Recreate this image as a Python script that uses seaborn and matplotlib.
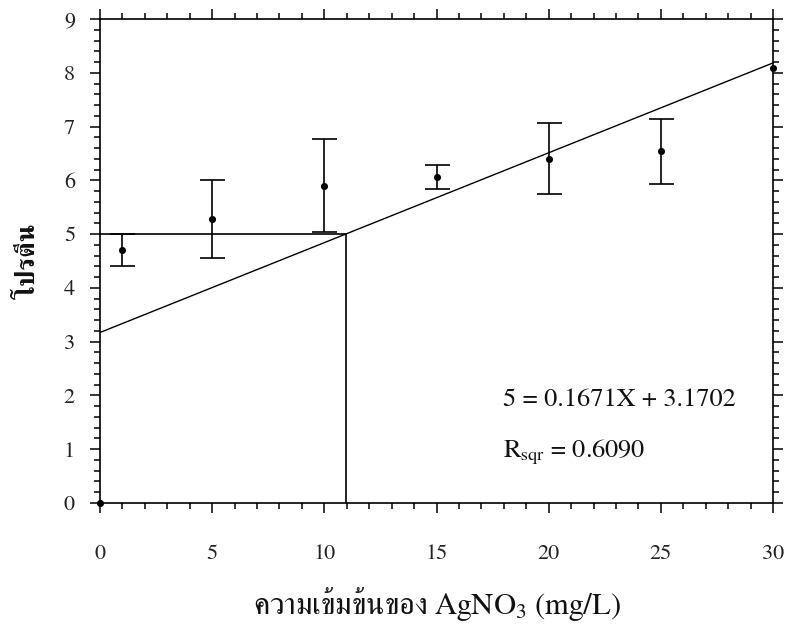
import matplotlib
matplotlib.use("Agg")
import matplotlib.pyplot as plt
from matplotlib.ticker import MultipleLocator
import numpy as np
import pandas as pd
import seaborn as sns

# AgNO3 concentration (mg/L) and measured protein with standard deviation
concentration = [0, 1, 5, 10, 15, 20, 25, 30]
protein = [0.0, 4.71, 5.28, 5.90, 6.06, 6.40, 6.54, 8.08]
protein_sd = [0.0, 0.30, 0.73, 0.86, 0.22, 0.66, 0.60, 0.0]

# Linear fit shown on the chart
slope = 0.1671
intercept = 3.1702
r_sqr = 0.6090
target_protein = 5

x_ticks = [0, 5, 10, 15, 20, 25, 30]
y_ticks = [0, 1, 2, 3, 4, 5, 6, 7, 8, 9]

sns.set_theme(style="ticks")
plt.rcParams["font.family"] = ["FreeSerif", "Liberation Serif", "DejaVu Serif"]
plt.rcParams["mathtext.fontset"] = "custom"
plt.rcParams["mathtext.rm"] = "FreeSerif"
plt.rcParams["mathtext.it"] = "FreeSerif:italic"

df = pd.DataFrame({"conc": concentration, "protein": protein, "sd": protein_sd})

fig = plt.figure(figsize=(7.86, 6.31), dpi=100)
ax = fig.add_axes([0.1272, 0.2029, 0.8563, 0.7670])

# fitted line over the full concentration range
fit_x = np.array([min(concentration), max(concentration)])
fit_df = pd.DataFrame({"conc": fit_x, "protein": slope * fit_x + intercept})
sns.lineplot(data=fit_df, x="conc", y="protein", ax=ax, color="black",
             linewidth=1.0, legend=False)

# read-off lines at the target protein level
x_at_target = (target_protein - intercept) / slope
ax.plot([0, x_at_target], [target_protein, target_protein], color="black", linewidth=1.2)
ax.plot([x_at_target, x_at_target], [0, target_protein], color="black", linewidth=1.2)

# error bars and mean points
err = df[df["sd"] > 0]
ax.errorbar(err["conc"], err["protein"], yerr=err["sd"], fmt="none",
            ecolor="black", elinewidth=1.2, capsize=9, capthick=1.2)
sns.scatterplot(data=df, x="conc", y="protein", ax=ax, color="black",
                s=26, edgecolor="black", linewidth=0, zorder=5, clip_on=False)

ax.set_xlim(0, 30)
ax.set_ylim(0, 9)
ax.set_xticks(x_ticks)
ax.set_yticks(y_ticks)
ax.xaxis.set_minor_locator(MultipleLocator(1))
ax.yaxis.set_minor_locator(MultipleLocator(0.2))
ax.tick_params(which="both", direction="out", top=True, right=True,
               color="black", width=1.1)
ax.tick_params(which="major", length=7)
ax.tick_params(which="minor", length=4.5)
ax.tick_params(axis="x", which="major", labelsize=16, pad=23, labelcolor="#222222")
ax.tick_params(axis="y", which="major", labelsize=16, pad=11, labelcolor="#222222")
ax.tick_params(axis="x", which="both", labeltop=False)
ax.tick_params(axis="y", which="both", labelright=False)
for side in ["left", "right", "top", "bottom"]:
    ax.spines[side].set_visible(True)
    ax.spines[side].set_color("black")
    ax.spines[side].set_linewidth(1.2)

ax.set_xlabel("ความเข้มข้นของ AgNO$_3$ (mg/L)", fontsize=22, labelpad=15, color="#111111")
ax.set_ylabel("โปรตีน", fontsize=19, fontweight="bold", labelpad=17, color="#111111")

ax.text(17.95, 1.91, f"{target_protein} = {slope:.4f}X + {intercept:.4f}",
        fontsize=19, va="center", ha="left", color="#111111")
ax.text(17.95, 0.95, f"R$_{{\\mathrm{{sqr}}}}$ = {r_sqr:.4f}",
        fontsize=19, va="center", ha="left", color="#111111")

fig.savefig("out.png", dpi=100, facecolor="white")
